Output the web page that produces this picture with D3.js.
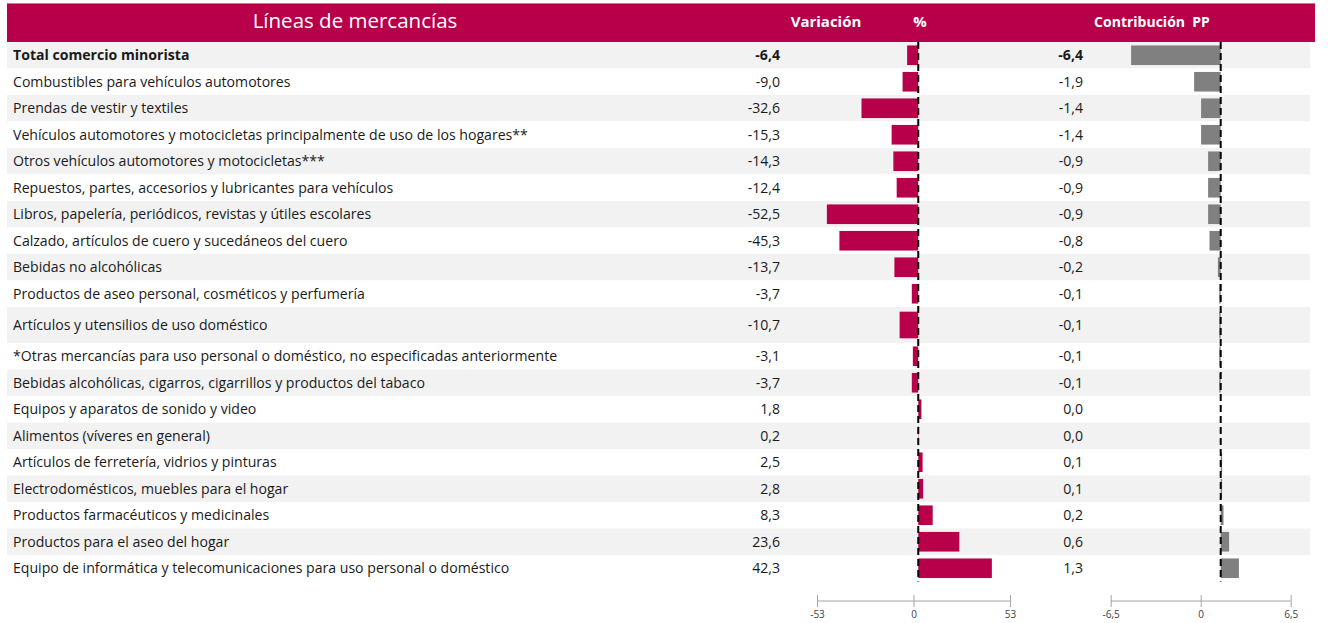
<!DOCTYPE html>
<html>
<head>
<meta charset="utf-8">
<script src="https://cdn.jsdelivr.net/npm/d3@7/dist/d3.min.js"></script>
<style>
  html, body { margin: 0; padding: 0; background: #ffffff; }
  svg { display: block; font-family: "Open Sans", "Noto Sans", sans-serif; }
</style>
</head>
<body>
<svg id="chart" width="1328" height="623"></svg>
<script>
// ---------- DATA ----------
const categories = [
  "Total comercio minorista",
  "Combustibles para vehículos automotores",
  "Prendas de vestir y textiles",
  "Vehículos automotores y motocicletas principalmente de uso de los hogares**",
  "Otros vehículos automotores y motocicletas***",
  "Repuestos, partes, accesorios y lubricantes para vehículos",
  "Libros, papelería, periódicos, revistas y útiles escolares",
  "Calzado, artículos de cuero y sucedáneos del cuero",
  "Bebidas no alcohólicas",
  "Productos de aseo personal, cosméticos y perfumería",
  "Artículos y utensilios de uso doméstico",
  "*Otras mercancías para uso personal o doméstico, no especificadas anteriormente",
  "Bebidas alcohólicas, cigarros, cigarrillos y productos del tabaco",
  "Equipos y aparatos de sonido y video",
  "Alimentos (víveres en general)",
  "Artículos de ferretería, vidrios y pinturas",
  "Electrodomésticos, muebles para el hogar",
  "Productos farmacéuticos y medicinales",
  "Productos para el aseo del hogar",
  "Equipo de informática y telecomunicaciones para uso personal o doméstico"
];
const variacion = [-6.4, -9.0, -32.6, -15.3, -14.3, -12.4, -52.5, -45.3, -13.7, -3.7,
                   -10.7, -3.1, -3.7, 1.8, 0.2, 2.5, 2.8, 8.3, 23.6, 42.3];
const contribucion = [-6.4, -1.9, -1.4, -1.4, -0.9, -0.9, -0.9, -0.8, -0.2, -0.1,
                      -0.1, -0.1, -0.1, 0.0, 0.0, 0.1, 0.1, 0.2, 0.6, 1.3];
const headerTitle = "Líneas de mercancías";
const headerVar = "Variación";
const headerPct = "%";
const headerContrib = "Contribución  PP";
const varTicks = [-53, 0, 53];
const contribTicks = [-6.5, 0, 6.5];

// ---------- LAYOUT ----------
const svg = d3.select("#chart");
const tableTop = 42;
const rowH = 26.5, tallH = 36;
const tallRowIndex = 10;

const heights = categories.map((c, i) => i === tallRowIndex ? tallH : rowH);
const tops = [];
heights.reduce((acc, h, i) => { tops[i] = acc; return acc + h; }, tableTop);
const tableBottom = tops[tops.length - 1] + heights[heights.length - 1];

const fmt = v => d3.format(".1f")(v).replace(".", ",").replace("−", "-");
const fmtTick = v => String(v).replace(".", ",");

const red = "#B8004A";
const grey = "#808080";
const fs = 14.1;

// scales for bars
const xVar = d3.scaleLinear().domain([-53, 53]).range([826, 1010.5]);
const xCon = d3.scaleLinear().domain([-6.5, 6.5]).range([1129.7, 1311.7]);
// scales for the bottom axes (as drawn in the reference)
const xVarAxis = d3.scaleLinear().domain([-53, 53]).range([817, 1010]);
const xConAxis = d3.scaleLinear().domain([-6.5, 6.5]).range([1110.7, 1290.7]);

// ---------- HEADER ----------
svg.append("rect").attr("x", 7).attr("y", 3).attr("width", 1308).attr("height", 39)
  .attr("fill", red);
svg.append("line").attr("x1", 7).attr("x2", 1315).attr("y1", 3.5).attr("y2", 3.5)
  .attr("stroke", "#d9708f").attr("stroke-width", 1);
svg.append("text").attr("x", 355).attr("y", 28).attr("text-anchor", "middle")
  .attr("fill", "#fff").attr("font-size", 20.5).attr("font-weight", 400)
  .text(headerTitle);
svg.append("text").attr("x", 826).attr("y", 27).attr("text-anchor", "middle")
  .attr("fill", "#fff").attr("font-size", 15).attr("font-weight", 700)
  .text(headerVar);
svg.append("text").attr("x", 920).attr("y", 27).attr("text-anchor", "middle")
  .attr("fill", "#fff").attr("font-size", 15).attr("font-weight", 700)
  .text(headerPct);
svg.append("text").attr("x", 1152).attr("y", 27).attr("text-anchor", "middle")
  .attr("fill", "#fff").attr("font-size", 14).attr("font-weight", 700)
  .attr("xml:space", "preserve")
  .text(headerContrib);

// ---------- ROWS ----------
const rows = svg.append("g").selectAll("g").data(categories).join("g")
  .attr("transform", (d, i) => `translate(0,${tops[i]})`);

rows.append("rect")
  .attr("x", 7).attr("y", 0).attr("width", 1303)
  .attr("height", (d, i) => heights[i])
  .attr("fill", (d, i) => i % 2 === 0 ? "#f2f2f2" : "#ffffff");

rows.append("text")
  .attr("x", 13).attr("y", (d, i) => heights[i] / 2).attr("dy", "0.35em")
  .attr("font-size", fs).attr("fill", "#1a1a1a")
  .attr("font-weight", (d, i) => i === 0 ? 700 : 400)
  .text(d => d);

rows.append("text")
  .attr("x", 780).attr("y", (d, i) => heights[i] / 2).attr("dy", "0.35em")
  .attr("text-anchor", "end").attr("font-size", fs).attr("fill", "#1a1a1a")
  .attr("font-weight", (d, i) => i === 0 ? 700 : 400)
  .text((d, i) => fmt(variacion[i]));

rows.append("text")
  .attr("x", 1083).attr("y", (d, i) => heights[i] / 2).attr("dy", "0.35em")
  .attr("text-anchor", "end").attr("font-size", fs).attr("fill", "#1a1a1a")
  .attr("font-weight", (d, i) => i === 0 ? 700 : 400)
  .text((d, i) => fmt(contribucion[i]));

// bars
const barFrac = 0.74;
rows.append("rect")
  .attr("x", (d, i) => Math.min(xVar(0), xVar(variacion[i])))
  .attr("width", (d, i) => Math.abs(xVar(variacion[i]) - xVar(0)))
  .attr("y", (d, i) => heights[i] * (1 - barFrac) / 2)
  .attr("height", (d, i) => heights[i] * barFrac)
  .attr("fill", red);

rows.append("rect")
  .attr("x", (d, i) => Math.min(xCon(0), xCon(contribucion[i])))
  .attr("width", (d, i) => Math.abs(xCon(contribucion[i]) - xCon(0)))
  .attr("y", (d, i) => heights[i] * (1 - barFrac) / 2)
  .attr("height", (d, i) => heights[i] * barFrac)
  .attr("fill", grey);

// zero dashed lines
[xVar(0), xCon(0)].forEach(x => {
  svg.append("line").attr("x1", x).attr("x2", x)
    .attr("y1", tableTop).attr("y2", tableBottom)
    .attr("stroke", "#000").attr("stroke-width", 2)
    .attr("stroke-dasharray", "7,4");
});

// ---------- BOTTOM AXES ----------
function drawAxis(scale, ticks) {
  const g = svg.append("g").attr("transform", "translate(0,601)")
    .call(d3.axisBottom(scale).tickValues(ticks).tickFormat(fmtTick).tickSize(6).tickPadding(4));
  g.select(".domain").attr("stroke", "#a6a6a6").attr("d",
    `M${scale.range()[0]},0H${scale.range()[1]}`);
  g.selectAll(".tick line").attr("y1", -6).attr("y2", 6).attr("stroke", "#a6a6a6");
  g.selectAll(".tick text").attr("font-size", 10).attr("fill", "#404040")
    .attr("font-family", "'Open Sans', sans-serif");
}
drawAxis(xVarAxis, varTicks);
drawAxis(xConAxis, contribTicks);
</script>
</body>
</html>
